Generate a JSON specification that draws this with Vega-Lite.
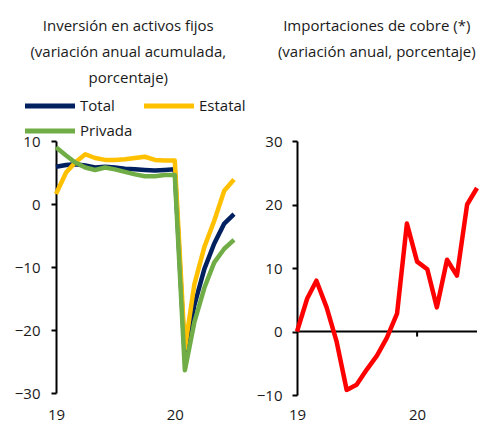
{
  "$schema": "https://vega.github.io/schema/vega-lite/v6.json",
  "background": "white",
  "padding": {"left": 14, "top": 19, "right": 4, "bottom": 0},
  "spacing": 63,
  "bounds": "flush",
  "config": {
    "font": "Open Sans",
    "view": {"stroke": null},
    "axis": {
      "labelFont": "Open Sans",
      "labelFontSize": 15,
      "labelColor": "#1a1a1a",
      "grid": false,
      "domainColor": "black",
      "domainWidth": 2,
      "tickColor": "black",
      "tickWidth": 2,
      "tickSize": 5,
      "title": null
    },
    "legend": {"labelFont": "Open Sans", "labelFontSize": 15, "labelColor": "#1a1a1a"},
    "title": {"font": "Open Sans", "fontSize": 15, "fontWeight": "normal", "color": "#1a1a1a", "anchor": "middle", "frame": "bounds", "lineHeight": 26}
  },
  "datasets": {
    "inv": [
      {"fecha": "2019-01-01", "serie": "Total", "valor": 5.9},
      {"fecha": "2019-02-01", "serie": "Total", "valor": 6.2},
      {"fecha": "2019-03-01", "serie": "Total", "valor": 6.3},
      {"fecha": "2019-04-01", "serie": "Total", "valor": 6.1},
      {"fecha": "2019-05-01", "serie": "Total", "valor": 5.8},
      {"fecha": "2019-06-01", "serie": "Total", "valor": 5.9},
      {"fecha": "2019-07-01", "serie": "Total", "valor": 5.8},
      {"fecha": "2019-08-01", "serie": "Total", "valor": 5.6},
      {"fecha": "2019-09-01", "serie": "Total", "valor": 5.5},
      {"fecha": "2019-10-01", "serie": "Total", "valor": 5.4},
      {"fecha": "2019-11-01", "serie": "Total", "valor": 5.3},
      {"fecha": "2019-12-01", "serie": "Total", "valor": 5.4},
      {"fecha": "2020-01-01", "serie": "Total", "valor": 5.5},
      {"fecha": "2020-02-01", "serie": "Total", "valor": -24.5},
      {"fecha": "2020-03-01", "serie": "Total", "valor": -16.1},
      {"fecha": "2020-04-01", "serie": "Total", "valor": -10.3},
      {"fecha": "2020-05-01", "serie": "Total", "valor": -6.3},
      {"fecha": "2020-06-01", "serie": "Total", "valor": -3.1},
      {"fecha": "2020-07-01", "serie": "Total", "valor": -1.6},
      {"fecha": "2019-01-01", "serie": "Estatal", "valor": 1.6},
      {"fecha": "2019-02-01", "serie": "Estatal", "valor": 5.0},
      {"fecha": "2019-03-01", "serie": "Estatal", "valor": 6.6},
      {"fecha": "2019-04-01", "serie": "Estatal", "valor": 7.9},
      {"fecha": "2019-05-01", "serie": "Estatal", "valor": 7.3},
      {"fecha": "2019-06-01", "serie": "Estatal", "valor": 7.0},
      {"fecha": "2019-07-01", "serie": "Estatal", "valor": 7.0},
      {"fecha": "2019-08-01", "serie": "Estatal", "valor": 7.1},
      {"fecha": "2019-09-01", "serie": "Estatal", "valor": 7.3},
      {"fecha": "2019-10-01", "serie": "Estatal", "valor": 7.5},
      {"fecha": "2019-11-01", "serie": "Estatal", "valor": 7.0},
      {"fecha": "2019-12-01", "serie": "Estatal", "valor": 6.9},
      {"fecha": "2020-01-01", "serie": "Estatal", "valor": 6.9},
      {"fecha": "2020-02-01", "serie": "Estatal", "valor": -23.0},
      {"fecha": "2020-03-01", "serie": "Estatal", "valor": -12.8},
      {"fecha": "2020-04-01", "serie": "Estatal", "valor": -6.8},
      {"fecha": "2020-05-01", "serie": "Estatal", "valor": -2.7},
      {"fecha": "2020-06-01", "serie": "Estatal", "valor": 2.1},
      {"fecha": "2020-07-01", "serie": "Estatal", "valor": 3.9},
      {"fecha": "2019-01-01", "serie": "Privada", "valor": 9.0},
      {"fecha": "2019-02-01", "serie": "Privada", "valor": 7.7},
      {"fecha": "2019-03-01", "serie": "Privada", "valor": 6.6},
      {"fecha": "2019-04-01", "serie": "Privada", "valor": 5.8},
      {"fecha": "2019-05-01", "serie": "Privada", "valor": 5.4},
      {"fecha": "2019-06-01", "serie": "Privada", "valor": 5.8},
      {"fecha": "2019-07-01", "serie": "Privada", "valor": 5.5},
      {"fecha": "2019-08-01", "serie": "Privada", "valor": 5.1},
      {"fecha": "2019-09-01", "serie": "Privada", "valor": 4.7},
      {"fecha": "2019-10-01", "serie": "Privada", "valor": 4.4},
      {"fecha": "2019-11-01", "serie": "Privada", "valor": 4.4},
      {"fecha": "2019-12-01", "serie": "Privada", "valor": 4.6},
      {"fecha": "2020-01-01", "serie": "Privada", "valor": 4.6},
      {"fecha": "2020-02-01", "serie": "Privada", "valor": -26.4},
      {"fecha": "2020-03-01", "serie": "Privada", "valor": -18.8},
      {"fecha": "2020-04-01", "serie": "Privada", "valor": -13.3},
      {"fecha": "2020-05-01", "serie": "Privada", "valor": -9.3},
      {"fecha": "2020-06-01", "serie": "Privada", "valor": -7.1},
      {"fecha": "2020-07-01", "serie": "Privada", "valor": -5.7}
    ],
    "cobre": [
      {"fecha": "2019-01-01", "valor": 0.0},
      {"fecha": "2019-02-01", "valor": 5.2},
      {"fecha": "2019-03-01", "valor": 8.0},
      {"fecha": "2019-04-01", "valor": 3.8},
      {"fecha": "2019-05-01", "valor": -1.5},
      {"fecha": "2019-06-01", "valor": -9.2},
      {"fecha": "2019-07-01", "valor": -8.4},
      {"fecha": "2019-08-01", "valor": -6.0},
      {"fecha": "2019-09-01", "valor": -3.8},
      {"fecha": "2019-10-01", "valor": -1.0},
      {"fecha": "2019-11-01", "valor": 2.8},
      {"fecha": "2019-12-01", "valor": 17.0},
      {"fecha": "2020-01-01", "valor": 11.0},
      {"fecha": "2020-02-01", "valor": 9.8},
      {"fecha": "2020-03-01", "valor": 3.8},
      {"fecha": "2020-04-01", "valor": 11.3},
      {"fecha": "2020-05-01", "valor": 8.8},
      {"fecha": "2020-06-01", "valor": 20.0},
      {"fecha": "2020-07-01", "valor": 22.6}
    ]
  },
  "hconcat": [
    {
      "width": 178,
      "height": 252,
      "title": {"text": ["Inversión en activos fijos", "(variación anual acumulada,", "porcentaje)"], "offset": 48, "dx": 3},
      "data": {"name": "inv"},
      "encoding": {
        "x": {
          "field": "fecha", "type": "temporal",
          "scale": {"domain": [{"year": 2019, "month": 1, "date": 1}, {"year": 2020, "month": 7, "date": 1}]},
          "axis": {"values": [{"year": 2019, "month": 1, "date": 1}, {"year": 2020, "month": 1, "date": 1}], "format": "%y", "domain": false, "ticks": false, "labelFlush": false, "labelPadding": 14}
        },
        "y": {
          "field": "valor", "type": "quantitative",
          "scale": {"domain": [-30, 10]},
          "axis": {"values": [-30, -20, -10, 0, 10], "labelPadding": 11}
        },
        "color": {
          "field": "serie", "type": "nominal",
          "scale": {"domain": ["Total", "Estatal", "Privada"], "range": ["#002060", "#FFC000", "#70AD47"]},
          "legend": {"title": null, "orient": "none", "direction": "horizontal", "legendX": -17, "legendY": -46, "columns": 2, "symbolType": "M-3,0L3,0", "symbolSize": 278, "symbolStrokeWidth": 5, "columnPadding": 0, "rowPadding": 4, "labelOffset": 19}
        }
      },
      "layer": [
        {
          "data": {"values": [{}]},
          "mark": {"type": "rule", "color": "black", "strokeWidth": 2},
          "encoding": {"x": null, "color": null, "y": {"datum": 0, "type": "quantitative"}}
        },
        {
          "transform": [{"filter": "datum.serie === 'Total'"}],
          "mark": {"type": "line", "strokeWidth": 4.5, "strokeJoin": "round"}
        },
        {
          "transform": [{"filter": "datum.serie === 'Estatal'"}],
          "mark": {"type": "line", "strokeWidth": 4.5, "strokeJoin": "round"}
        },
        {
          "transform": [{"filter": "datum.serie === 'Privada'"}],
          "mark": {"type": "line", "strokeWidth": 4.5, "strokeJoin": "round"}
        }
      ]
    },
    {
      "width": 180,
      "height": 254,
      "title": {"text": ["Importaciones de cobre (*)", "(variación anual, porcentaje)"], "offset": 74, "dx": 9},
      "layer": [
        {
          "data": {"values": [{}]},
          "mark": {"type": "rule", "color": "black", "strokeWidth": 2},
          "encoding": {"y": {"datum": 0, "type": "quantitative", "scale": {"domain": [-10, 30]}}}
        },
        {
          "data": {"values": [{}]},
          "mark": {"type": "rule", "color": "black", "strokeWidth": 2},
          "encoding": {
            "x": {"datum": {"year": 2020, "month": 1, "date": 1}, "type": "temporal"},
            "y": {"datum": 0, "type": "quantitative"},
            "y2": {"datum": -0.8}
          }
        },
        {
          "data": {"name": "cobre"},
          "mark": {"type": "line", "strokeWidth": 4.5, "strokeJoin": "round", "color": "#FF0000"},
          "encoding": {
            "x": {
              "field": "fecha", "type": "temporal",
              "scale": {"domain": [{"year": 2019, "month": 1, "date": 1}, {"year": 2020, "month": 7, "date": 1}]},
              "axis": {"values": [{"year": 2019, "month": 1, "date": 1}, {"year": 2020, "month": 1, "date": 1}], "format": "%y", "domain": false, "ticks": false, "labelFlush": false, "labelPadding": 12}
            },
            "y": {
              "field": "valor", "type": "quantitative",
              "scale": {"domain": [-10, 30]},
              "axis": {"values": [-10, 0, 10, 20, 30], "labelPadding": 10}
            }
          }
        }
      ]
    }
  ]
}
